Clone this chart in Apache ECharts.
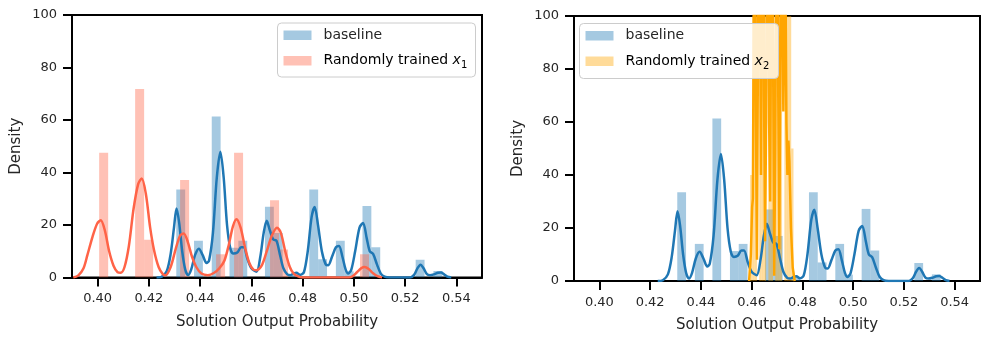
<!DOCTYPE html>
<html>
<head>
<meta charset="utf-8">
<script src="https://cdn.jsdelivr.net/npm/echarts@6/dist/echarts.min.js"></script>
<style>
  html, body { margin: 0; padding: 0; background: #fff; }
  #chart { width: 997px; height: 345px; }
</style>
</head>
<body>
<div id="chart"></div>
<script>
// x tick labels shared by both panels
const xTicks = [0.40, 0.42, 0.44, 0.46, 0.48, 0.50, 0.52, 0.54];

// histogram of the baseline (same in both panels)
const baseBinStart = 0.4307;
const baseBinWidth = 0.00346;
const baseHeights = [33.5, 0, 14, 0, 61.3, 0, 11.3, 14, 0, 0,
  27, 17, 0, 1.5, 0, 33.5, 7, 0, 14, 2.4,
  0, 27.2, 11.5, 0, 0, 0, 0, 6.8, 0, 2.5];

// histogram of "Randomly trained x1"
const x1BinStart = 0.4006;
const x1BinWidth = 0.00351;
const x1Heights = [47.5, 0, 0, 0, 71.8, 14.4, 0, 0, 0, 37.1,
  0, 0, 0, 8.9, 0, 47.5, 0, 0, 0, 29.4,
  10.7, 0, 0, 0, 0, 0, 0, 0, 0, 8.9];

// histogram of "Randomly trained x2" (very narrow bins)
const x2BinStart = 0.4594;
const x2BinWidth = 0.0009;
const x2Heights = [40, 130, 130, 0, 130, 130, 130, 0, 130, 130,
  0, 130, 130, 130, 0, 130, 130, 130, 50];

// density curves
const baseKdeX = [0.4230, 0.4250, 0.4270, 0.4285, 0.4298, 0.4308, 0.4318, 0.4330, 0.4342, 0.4353,
  0.4365, 0.4380, 0.4395, 0.4410, 0.4425, 0.4435, 0.4450, 0.4465, 0.4479, 0.4492,
  0.4505, 0.4518, 0.4530, 0.4545, 0.4560, 0.4570, 0.4585, 0.4600, 0.4620, 0.4635,
  0.4648, 0.4660, 0.4672, 0.4685, 0.4698, 0.4712, 0.4725, 0.4740, 0.4752, 0.4765,
  0.4776, 0.4790, 0.4805, 0.4820, 0.4835, 0.4847, 0.4860, 0.4875, 0.4890, 0.4900,
  0.4915, 0.4930, 0.4942, 0.4955, 0.4968, 0.4978, 0.4990, 0.5005, 0.5022, 0.5036,
  0.5050, 0.5062, 0.5075, 0.5090, 0.5105, 0.5120, 0.5140, 0.5220, 0.5235, 0.5248,
  0.5260, 0.5272, 0.5285, 0.5297, 0.5312, 0.5328, 0.5340, 0.5352, 0.5365, 0.5380];
const baseKdeY = [0, 0.3, 2.5, 9, 19, 26.3, 21, 10, 3, 0.9,
  3, 8.5, 11, 8.5, 5.5, 6.5, 17, 38, 47.9, 38,
  20, 11, 9.1, 9.5, 11.5, 11.5, 7, 3.5, 2.2, 8,
  17, 21.6, 18, 14.5, 14, 8.5, 3.5, 1.2, 0.9, 1.5,
  1.8, 1, 2, 10, 23, 26.9, 20, 10, 5, 4.7,
  8, 11.5, 12, 8, 3, 1.5, 3, 10, 19, 20.8,
  15, 10, 9, 5, 1.5, 0.3, 0, 0, 1, 3.5,
  4.9, 3.5, 1.3, 0.9, 1.2, 1.8, 1.9, 1.2, 0.3, 0];

const x1KdeX = [0.3905, 0.3925, 0.3945, 0.3960, 0.3980, 0.3998, 0.4012, 0.4028, 0.4045, 0.4062,
  0.4078, 0.4090, 0.4105, 0.4122, 0.4140, 0.4158, 0.4172, 0.4188, 0.4205, 0.4220,
  0.4238, 0.4255, 0.4265, 0.4285, 0.4305, 0.4322, 0.4336, 0.4352, 0.4368, 0.4385,
  0.4405, 0.4430, 0.4455, 0.4475, 0.4495, 0.4512, 0.4528, 0.4542, 0.4558, 0.4575,
  0.4592, 0.4608, 0.4620, 0.4640, 0.4660, 0.4680, 0.4700, 0.4715, 0.4732, 0.4750,
  0.4765, 0.4785, 0.4800, 0.4980, 0.4995, 0.5012, 0.5030, 0.5042, 0.5058, 0.5075,
  0.5092, 0.5110];
const x1KdeY = [0, 0.8, 3.5, 8.5, 15.5, 20.5, 21.8, 18, 10, 4.5,
  2, 1.8, 4, 12, 26, 35.5, 37.7, 32, 19, 10.5,
  4, 1.2, 0.9, 4, 11, 16, 16.8, 13.5, 8, 4,
  1.5, 0.9, 1.8, 3.5, 6.5, 12.5, 19.5, 22.2, 19, 11.5,
  5.5, 3, 2.8, 4.5, 10, 16, 19, 17, 10, 4,
  1.5, 0.3, 0, 0, 0.5, 2, 3.6, 4, 3.2, 1.6,
  0.5, 0];

const x2KdeX = [0.4590, 0.4597, 0.4602, 0.4605, 0.4609, 0.4613, 0.4617, 0.4621, 0.4625, 0.4629,
  0.4633, 0.4637, 0.4641, 0.4645, 0.4649, 0.4653, 0.4657, 0.4661, 0.4665, 0.4669,
  0.4673, 0.4677, 0.4681, 0.4685, 0.4689, 0.4693, 0.4697, 0.4701, 0.4705, 0.4709,
  0.4713, 0.4717, 0.4721, 0.4725, 0.4729, 0.4733, 0.4737, 0.4741, 0.4745, 0.4749,
  0.4755, 0.4762, 0.4770];
const x2KdeY = [0, 10, 28, 31, 120, 150, 60, 8, 90, 150,
  110, 40, 130, 160, 70, 15, 60, 140, 150, 60,
  30, 110, 150, 80, 2, 50, 130, 150, 70, 12,
  80, 140, 110, 64, 100, 120, 60, 40, 53, 45,
  20, 5, 0];

const BLUE = "#1f77b4";
const RED = "#ff6347";
const ORANGE = "#ffa500";
const FONT = "DejaVu Sans";
const TXT = "#262626";

const toBins = (start, width, heights) =>
  heights.map((h, i) => [start + i * width, start + (i + 1) * width, h]);
const toPairs = (xs, ys) => xs.map((x, i) => [x, ys[i]]);

const histRender = (fill) => (params, api) => {
  const p0 = api.coord([api.value(0), api.value(2)]);
  const p1 = api.coord([api.value(1), 0]);
  return {
    type: "rect",
    shape: { x: p0[0], y: p0[1], width: p1[0] - p0[0], height: p1[1] - p0[1] },
    style: { fill: fill },
  };
};

const histSeries = (name, idx, data, fill) => ({
  name: name,
  type: "custom",
  xAxisIndex: idx,
  yAxisIndex: idx,
  clip: true,
  encode: { x: [0, 1], y: 2 },
  renderItem: histRender(fill),
  data: data,
});

const kdeSeries = (idx, data, color, smooth) => ({
  type: "line",
  xAxisIndex: idx,
  yAxisIndex: idx,
  data: data,
  smooth: smooth,
  symbol: "none",
  clip: true,
  lineStyle: { color: color, width: 2.5 },
});

const xAxisOf = (idx) => ({
  type: "value",
  gridIndex: idx,
  min: 0.39,
  max: 0.55,
  name: "Solution Output Probability",
  nameLocation: "middle",
  nameGap: 37,
  nameTextStyle: { fontFamily: FONT, fontSize: 15, color: TXT },
  axisLine: { lineStyle: { color: "#000", width: 2 } },
  axisTick: { customValues: xTicks, length: 9, lineStyle: { color: "#000", width: 2 } },
  axisLabel: {
    customValues: xTicks,
    formatter: (v) => v.toFixed(2),
    margin: 15,
    fontFamily: FONT,
    fontSize: 13,
    color: TXT,
  },
  splitLine: { show: false },
});

const yAxisOf = (idx) => ({
  type: "value",
  gridIndex: idx,
  min: 0,
  max: 100,
  interval: 20,
  name: "Density",
  nameLocation: "middle",
  nameRotate: 90,
  nameGap: 48,
  nameTextStyle: { fontFamily: FONT, fontSize: 15, color: TXT },
  axisLine: { show: true, lineStyle: { color: "#000", width: 2 } },
  axisTick: { show: true, length: 9, lineStyle: { color: "#000", width: 2 } },
  axisLabel: { margin: 15, fontFamily: FONT, fontSize: 13, color: TXT },
  splitLine: { show: false },
});

// legend drawn as graphics so the box matches matplotlib's
const legendBox = (x, y, w, h, colors, sub) => {
  const rich = {
    n: { fontFamily: FONT, fontSize: 14, color: TXT, lineHeight: 20, verticalAlign: "middle" },
    x: { fontFamily: FONT, fontSize: 14, fontStyle: "italic", color: TXT, lineHeight: 20, verticalAlign: "middle" },
    s: { fontFamily: FONT, fontSize: 10, color: TXT, lineHeight: 12, verticalAlign: "bottom" },
  };
  return {
    type: "group",
    left: x,
    top: y,
    z: 100,
    children: [
      {
        type: "rect",
        z: 100,
        shape: { x: 0, y: 0, width: w, height: h, r: 4 },
        style: { fill: "rgba(255,255,255,0.8)", stroke: "#cccccc", lineWidth: 1 },
      },
      { type: "rect", z: 101, shape: { x: 6, y: 7.5, width: 28, height: 9.5 }, style: { fill: colors[0] } },
      {
        type: "text",
        z: 101,
        x: 46,
        y: 12,
        style: { text: "baseline", font: "14px '" + FONT + "'", fill: TXT, verticalAlign: "middle" },
      },
      { type: "rect", z: 101, shape: { x: 6, y: 33, width: 28, height: 9.5 }, style: { fill: colors[1] } },
      {
        type: "text",
        z: 101,
        x: 46,
        y: 37.5,
        style: {
          text: "{n|Randomly trained }{x|x}{s|" + sub + "}",
          rich: rich,
          verticalAlign: "middle",
        },
      },
    ],
  };
};

const chart = echarts.init(document.getElementById("chart"));

chart.setOption({
  animation: false,
  backgroundColor: "#fff",
  grid: [
    { left: 72, top: 15, width: 410, height: 262.5, show: true, borderColor: "#000", borderWidth: 2 },
    { left: 574, top: 16, width: 406, height: 265, show: true, borderColor: "#000", borderWidth: 2 },
  ],
  xAxis: [xAxisOf(0), xAxisOf(1)],
  yAxis: [yAxisOf(0), yAxisOf(1)],
  graphic: {
    elements: [
      legendBox(277, 22.5, 198, 54, ["rgba(31,119,180,0.4)", "rgba(255,99,71,0.4)"], "1"),
      legendBox(579, 23, 199, 55, ["rgba(31,119,180,0.4)", "rgba(255,165,0,0.4)"], "2"),
    ],
  },
  series: [
    histSeries("baseline", 0, toBins(baseBinStart, baseBinWidth, baseHeights), "rgba(31,119,180,0.4)"),
    kdeSeries(0, toPairs(baseKdeX, baseKdeY), BLUE, 0.3),
    histSeries("Randomly trained x1", 0, toBins(x1BinStart, x1BinWidth, x1Heights), "rgba(255,99,71,0.4)"),
    kdeSeries(0, toPairs(x1KdeX, x1KdeY), RED, 0.3),
    histSeries("baseline", 1, toBins(baseBinStart, baseBinWidth, baseHeights), "rgba(31,119,180,0.4)"),
    kdeSeries(1, toPairs(baseKdeX, baseKdeY), BLUE, 0.3),
    histSeries("Randomly trained x2", 1, toBins(x2BinStart, x2BinWidth, x2Heights), "rgba(255,165,0,0.4)"),
    kdeSeries(1, toPairs(x2KdeX, x2KdeY), ORANGE, false),
  ],
});

window.addEventListener("resize", () => chart.resize());
</script>
</body>
</html>
